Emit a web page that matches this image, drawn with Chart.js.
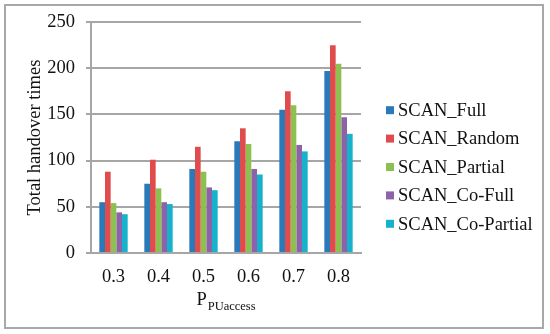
<!DOCTYPE html>
<html>
<head>
<meta charset="utf-8">
<script src="https://cdn.jsdelivr.net/npm/chart.js@4/dist/chart.umd.min.js"></script>
<style>
  html, body { margin: 0; padding: 0; background: #ffffff; }
  #wrap { width: 550px; height: 334px; }
</style>
</head>
<body>
<div id="wrap"><canvas id="c" width="550" height="334"></canvas></div>
<script>
const categories = ['0.3', '0.4', '0.5', '0.6', '0.7', '0.8'];
const seriesNames = ['SCAN_Full', 'SCAN_Random', 'SCAN_Partial', 'SCAN_Co-Full', 'SCAN_Co-Partial'];
const scanFull      = [55, 75, 91, 121, 155, 197];
const scanRandom    = [88, 101, 115, 135, 175, 225];
const scanPartial   = [54, 70, 88, 118, 160, 205];
const scanCoFull    = [44, 55, 71, 91, 117, 147];
const scanCoPartial = [42, 53, 68, 85, 110, 129];
const yTitle = 'Total handover times';
const xTitleMain = 'P';
const xTitleSub = 'PUaccess';

const colors = ['#2a7ab9', '#e04c4c', '#8cc152', '#8e62aa', '#16b2cc'];
const seriesValues = [scanFull, scanRandom, scanPartial, scanCoFull, scanCoPartial];
const FONT = 'Liberation Serif';
const FS = 18.5;
const gridColor = '#a6a6a6';
const textColor = '#111111';

const decorPlugin = {
  id: 'decor',
  beforeDraw(chart) {
    const ctx = chart.ctx;
    ctx.save();
    ctx.fillStyle = '#ffffff';
    ctx.fillRect(0, 0, chart.width, chart.height);
    ctx.restore();
  },
  afterDraw(chart) {
    const ctx = chart.ctx;
    const ca = chart.chartArea;
    ctx.save();
    // outer frame
    ctx.strokeStyle = '#a8a8a8';
    ctx.lineWidth = 2;
    ctx.strokeRect(5, 5, 538, 323);

    // y title
    ctx.fillStyle = textColor;
    ctx.font = FS + 'px "' + FONT + '"';
    ctx.textAlign = 'center';
    ctx.textBaseline = 'middle';
    ctx.translate(35, (ca.top + ca.bottom) / 2);
    ctx.rotate(-Math.PI / 2);
    ctx.fillText(yTitle, 0, 0);
    ctx.setTransform(1, 0, 0, 1, 0, 0);

    // x title with subscript
    ctx.textAlign = 'left';
    ctx.textBaseline = 'alphabetic';
    ctx.font = FS + 'px "' + FONT + '"';
    const wMain = ctx.measureText(xTitleMain).width;
    ctx.font = '12.5px "' + FONT + '"';
    const wSub = ctx.measureText(xTitleSub).width;
    const total = wMain + 1 + wSub;
    const x0 = (ca.left + ca.right) / 2 - total / 2;
    ctx.font = FS + 'px "' + FONT + '"';
    ctx.fillText(xTitleMain, x0, 305);
    ctx.font = '12.5px "' + FONT + '"';
    ctx.fillText(xTitleSub, x0 + wMain + 1, 310);

    // legend
    const items = chart.data.datasets;
    const spacing = 28.4;
    const cy0 = 167 - spacing * (items.length - 1) / 2;
    ctx.font = FS + 'px "' + FONT + '"';
    ctx.textBaseline = 'middle';
    items.forEach((ds, i) => {
      const cy = cy0 + i * spacing;
      ctx.fillStyle = ds.backgroundColor;
      ctx.fillRect(386, cy - 4, 8, 8);
      ctx.fillStyle = textColor;
      ctx.fillText(ds.label, 398, cy + 1);
    });
    ctx.restore();
  }
};

new Chart(document.getElementById('c'), {
  type: 'bar',
  data: {
    labels: categories,
    datasets: seriesNames.map((name, i) => ({
      label: name,
      data: seriesValues[i],
      backgroundColor: colors[i],
      borderWidth: 0,
      categoryPercentage: 0.63,
      barPercentage: 1.0
    }))
  },
  options: {
    responsive: false,
    animation: false,
    devicePixelRatio: 1,
    layout: { padding: { left: 0, top: 22, right: 189, bottom: 0 } },
    plugins: {
      legend: { display: false },
      tooltip: { enabled: false },
      title: { display: false }
    },
    scales: {
      x: {
        grid: { display: false },
        border: { display: true, color: gridColor, width: 2 },
        ticks: {
          color: textColor,
          font: { family: FONT, size: FS },
          padding: 5,
          maxRotation: 0
        },
        afterFit(scale) { scale.height = 81; }
      },
      y: {
        min: 0,
        max: 250,
        ticks: {
          stepSize: 50,
          color: textColor,
          font: { family: FONT, size: FS },
          padding: 11
        },
        grid: { color: gridColor, lineWidth: 2, tickLength: 5, drawTicks: true },
        border: { display: true, color: gridColor, width: 2 },
        afterFit(scale) { scale.width = 91; }
      }
    }
  },
  plugins: [decorPlugin]
});
</script>
</body>
</html>
